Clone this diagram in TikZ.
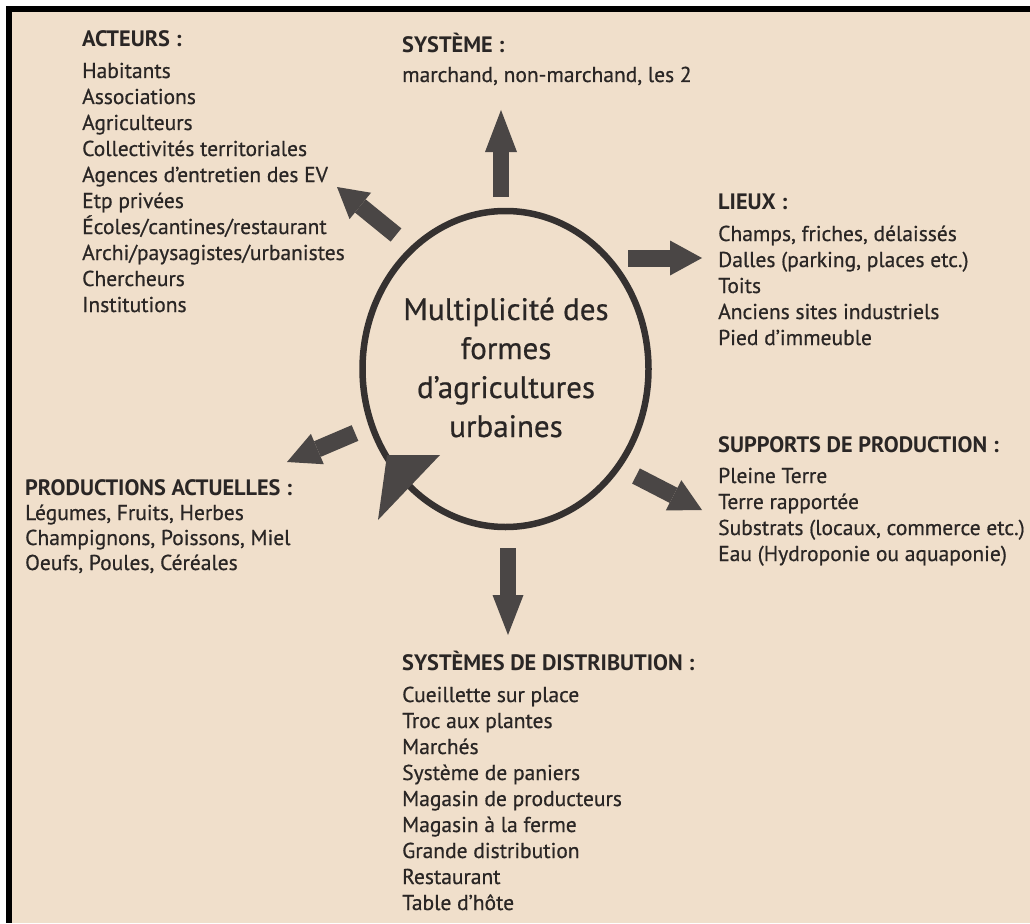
\documentclass[tikz,border=0pt]{standalone}
\usepackage{fontspec}
\setmainfont{PT Sans}
\newfontfamily\bodyf{PT Sans}[FakeBold=0.6]
\newfontfamily\titlef{PT Sans Bold}
\usetikzlibrary{arrows.meta,shapes.geometric}
\definecolor{bg}{HTML}{F0DFCB}
\definecolor{tx}{HTML}{2A2625}
\definecolor{arr}{HTML}{4A4645}
\definecolor{circ}{HTML}{353130}
\tikzset{
  ttl/.style={anchor=base west, inner sep=0pt, text=tx, font=\fontsize{22.3}{24}\selectfont\titlef},
  itm/.style={anchor=base west, inner sep=0pt, text=tx, font=\fontsize{21.5}{24}\selectfont\bodyf},
  ctr/.style={anchor=base, inner sep=0pt, text=tx, font=\fontsize{31}{39}\selectfont\bodyf},
  blk/.style={draw=arr, line width=#1, line cap=butt},
}
\begin{document}
\begin{tikzpicture}[x=1pt,y=-1pt]
\useasboundingbox (0,0) rectangle (1030,923);
\fill[white] (0,0) rectangle (1030,923);
\fill[bg] (12,12) rectangle (1030,923);
\fill[black] (6,6) rectangle (1030,12);
\fill[black] (6,6) rectangle (12,923);

% central circle
\node[draw=circ, ellipse, line width=6.5pt, minimum width=286pt, minimum height=316pt, inner sep=0pt] (c) at (505.5,369) {};
\fill[arr] (387,455) -- (440,455) -- (378,520) -- cycle;
\node[ctr] (ct1) at (506,320) {Multiplicité des};
\node[ctr] (ct2) at (506,359) {formes};
\node[ctr] (ct3) at (506,398) {d’agricultures};
\node[ctr] (ct4) at (506,437) {urbaines};

% arrows
\coordinate (a1s) at (501,197); \coordinate (a1e) at (501,110);
\coordinate (a2s) at (396,235); \coordinate (a2e) at (337,187);
\coordinate (a3s) at (628,258); \coordinate (a3e) at (702,258);
\coordinate (a4s) at (636,476); \coordinate (a4e) at (702,510);
\coordinate (a5s) at (508,548); \coordinate (a5e) at (508,635);
\coordinate (a6s) at (355,433); \coordinate (a6e) at (287,462);
\draw[blk=16pt, -{Triangle[width=32pt,length=42pt,line width=0pt]}] (a1s) -- (a1e);
\draw[blk=17pt, -{Triangle[width=34pt,length=30pt,line width=0pt]}] (a2s) -- (a2e);
\draw[blk=17pt, -{Triangle[width=35pt,length=32pt,line width=0pt]}] (a3s) -- (a3e);
\draw[blk=17pt, -{Triangle[width=34pt,length=32pt,line width=0pt]}] (a4s) -- (a4e);
\draw[blk=16pt, -{Triangle[width=31pt,length=40pt,line width=0pt]}] (a5s) -- (a5e);
\draw[blk=17pt, -{Triangle[width=33pt,length=33pt,line width=0pt]}] (a6s) -- (a6e);

% ACTEURS
\node[ttl] (act) at (82,47) {ACTEURS :};
\foreach \t [count=\i from 0] in {Habitants,Associations,Agriculteurs,Collectivités territoriales,Agences d’entretien des EV,Etp privées,Écoles/cantines/restaurant,Archi/paysagistes/urbanistes,Chercheurs,Institutions}
  \node[itm] (act\i) at (82,78+26*\i) {\t};

% SYSTEME
\node[ttl] (sys) at (402,53) {SYSTÈME :};
\node[itm] (sys0) at (402,82) {marchand, non-marchand, les 2};

% LIEUX
\node[ttl] (lie) at (718,209) {LIEUX :};
\foreach \t [count=\i from 0] in {Champs{,} friches{,} délaissés,Dalles (parking{,} places etc.),Toits,Anciens sites industriels,Pied d’immeuble}
  \node[itm] (lie\i) at (718,241+26*\i) {\t};

% SUPPORTS
\node[ttl] (sup) at (718,452) {SUPPORTS DE PRODUCTION :};
\foreach \t [count=\i from 0] in {Pleine Terre,Terre rapportée,Substrats (locaux{,} commerce etc.),Eau (Hydroponie ou aquaponie)}
  \node[itm] (sup\i) at (718,483+26*\i) {\t};

% PRODUCTIONS
\node[ttl] (pro) at (25,495) {PRODUCTIONS ACTUELLES :};
\foreach \t [count=\i from 0] in {Légumes{,} Fruits{,} Herbes,Champignons{,} Poissons{,} Miel,Oeufs{,} Poules{,} Céréales}
  \node[itm] (pro\i) at (25,520+25*\i) {\t};

% DISTRIBUTION
\node[ttl] (dis) at (402,670) {SYSTÈMES DE DISTRIBUTION :};
\foreach \t [count=\i from 0] in {Cueillette sur place,Troc aux plantes,Marchés,Système de paniers,Magasin de producteurs,Magasin à la ferme,Grande distribution,Restaurant,Table d’hôte}
  \node[itm] (dis\i) at (402,702+26*\i) {\t};
\end{tikzpicture}
\end{document}
